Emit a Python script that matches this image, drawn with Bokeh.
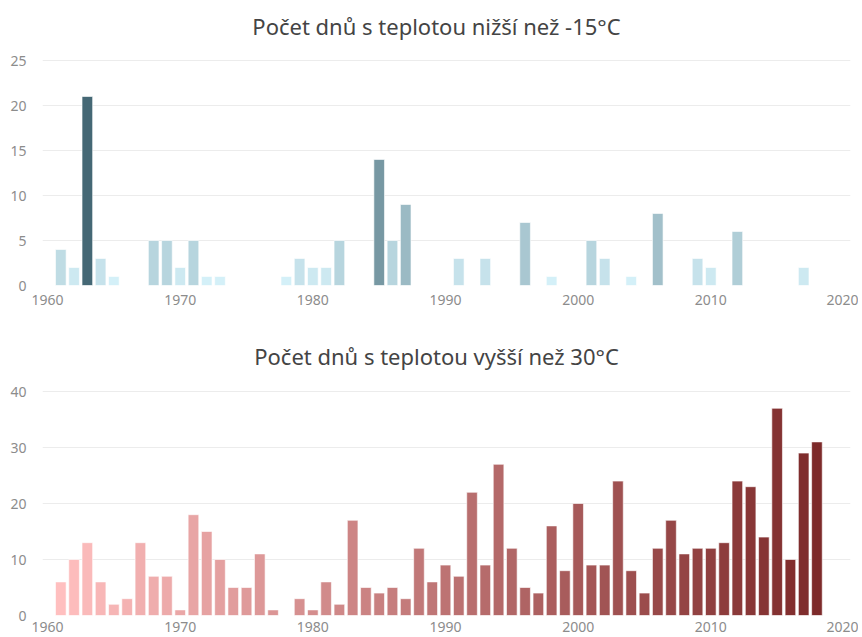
from bokeh.plotting import figure
from bokeh.layouts import column
from bokeh.models import ColumnDataSource, FixedTicker, Range1d
from bokeh.core.properties import value
from bokeh.embed import file_html
from bokeh.resources import INLINE

# --- data ---
cold_years = [1961, 1962, 1963, 1964, 1965, 1968, 1969, 1970, 1971, 1972, 1973,
              1978, 1979, 1980, 1981, 1982, 1985, 1986, 1987, 1991, 1993, 1996,
              1998, 2001, 2002, 2004, 2006, 2009, 2010, 2012, 2017]
cold_days = [4, 2, 21, 3, 1, 5, 5, 2, 5, 1, 1,
             1, 3, 2, 2, 5, 14, 5, 9, 3, 3, 7,
             1, 5, 3, 1, 8, 3, 2, 6, 2]

hot_years = [1961, 1962, 1963, 1964, 1965, 1966, 1967, 1968, 1969, 1970,
             1971, 1972, 1973, 1974, 1975, 1976, 1977, 1979, 1980, 1981,
             1982, 1983, 1984, 1985, 1986, 1987, 1988, 1989, 1990, 1991,
             1992, 1993, 1994, 1995, 1996, 1997, 1998, 1999, 2000, 2001,
             2002, 2003, 2004, 2005, 2006, 2007, 2008, 2009, 2010, 2011,
             2012, 2013, 2014, 2015, 2016, 2017, 2018]
hot_days = [6, 10, 13, 6, 2, 3, 13, 7, 7, 1,
            18, 15, 10, 5, 5, 11, 1, 3, 1, 6,
            2, 17, 5, 4, 5, 3, 12, 6, 9, 7,
            22, 9, 27, 12, 5, 4, 16, 8, 20, 9,
            9, 24, 8, 4, 12, 17, 11, 12, 12, 13,
            24, 23, 14, 37, 10, 29, 31]

x_ticks = [1960, 1970, 1980, 1990, 2000, 2010, 2020]
cold_y_ticks = [0, 5, 10, 15, 20, 25]
hot_y_ticks = [0, 10, 20, 30, 40]

cold_title = "Počet dnů s teplotou nižší než -15°C"
hot_title = "Počet dnů s teplotou vyšší než 30°C"


def lerp_hex(c0, c1, t):
    a = [int(c0[i:i + 2], 16) for i in (1, 3, 5)]
    b = [int(c1[i:i + 2], 16) for i in (1, 3, 5)]
    return "#%02x%02x%02x" % tuple(round(a[k] + (b[k] - a[k]) * t) for k in range(3))


vmin, vmax = min(cold_days), max(cold_days)
cold_colors = [lerp_hex("#d4f0f8", "#456875", (v - vmin) / (vmax - vmin)) for v in cold_days]
ymin, ymax = min(hot_years), max(hot_years)
hot_colors = [lerp_hex("#ffbfbf", "#7d2a2a", (y - ymin) / (ymax - ymin)) for y in hot_years]

FONT = "Noto Sans"
X0, X1 = 1959.62, 2020.53
FRAME_L, FRAME_R = 42, 850
TITLE_CX = 436          # title centre, px from left
BORDER_TOP = 5


def make_fig(years, vals, colors, title, yticks, height, axis_top_px, frame_bot_px,
             title_gap_px, bbot, xstand):
    # frame spans BORDER_TOP .. frame_bot_px (px inside this figure);
    # the top tick should sit axis_top_px below the figure top.
    frame_h = frame_bot_px - BORDER_TOP
    tick_top = yticks[-1]
    y_top = tick_top * frame_h / (frame_bot_px - axis_top_px)
    title_y = tick_top * (frame_bot_px - axis_top_px + title_gap_px) / (frame_bot_px - axis_top_px)
    title_x = X0 + (TITLE_CX - FRAME_L) * (X1 - X0) / (FRAME_R - FRAME_L)

    src = ColumnDataSource(dict(x=years, top=vals, color=colors))
    p = figure(width=858, height=height, output_backend="svg", toolbar_location=None,
               x_range=Range1d(X0, X1), y_range=Range1d(0, y_top),
               min_border_left=FRAME_L, min_border_right=858 - FRAME_R,
               min_border_top=BORDER_TOP, min_border_bottom=bbot)
    p.vbar(x="x", top="top", width=0.8, source=src, fill_color="color",
           line_color="white", line_alpha=0.6, line_width=1)
    p.text(x=[title_x], y=[title_y], text=[title], text_align="center",
           text_baseline="middle", text_font=value(FONT), text_font_size="22px",
           text_color="#444444")
    p.outline_line_color = None
    p.xaxis.ticker = FixedTicker(ticks=x_ticks)
    p.yaxis.ticker = FixedTicker(ticks=yticks)
    for ax in (p.xaxis, p.yaxis):
        ax.axis_line_color = None
        ax.major_tick_line_color = None
        ax.minor_tick_line_color = None
        ax.major_tick_out = 0
        ax.major_tick_in = 0
        ax.major_label_text_color = "#8c8c8c"
        ax.major_label_text_font = FONT
        ax.major_label_text_font_size = "14px"
    p.xaxis.major_label_standoff = xstand
    p.yaxis.major_label_standoff = 16
    p.xgrid.grid_line_color = None
    p.ygrid.grid_line_color = "#ececec"
    p.ygrid.grid_line_width = 1
    return p


p1 = make_fig(cold_years, cold_days, cold_colors, cold_title, cold_y_ticks,
              320, 60, 285, 35, 35, 9)
p2 = make_fig(hot_years, hot_days, hot_colors, hot_title, hot_y_ticks,
              317, 71, 295, 36, 22, 6)

layout = column(p1, p2, spacing=0)
open("out.html", "w").write(file_html(layout, INLINE))
